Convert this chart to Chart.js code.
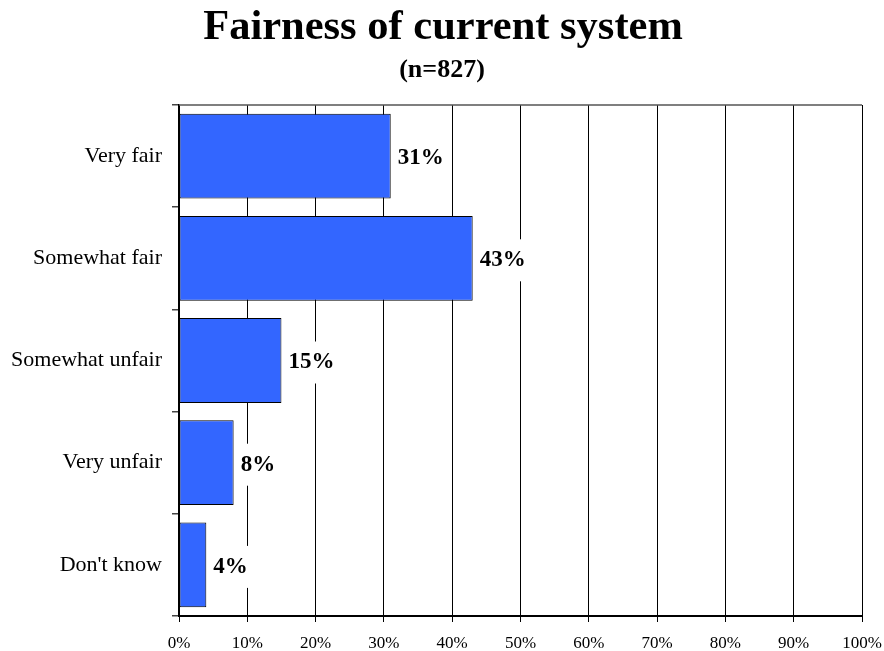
<!DOCTYPE html>
<html>
<head>
<meta charset="utf-8">
<script src="https://cdn.jsdelivr.net/npm/chart.js@4/dist/chart.umd.min.js"></script>
<style>
  html, body { margin: 0; padding: 0; background: #ffffff; }
  #wrap { width: 884px; height: 651px; }
</style>
</head>
<body>
<div id="wrap"><canvas id="c" width="884" height="651"></canvas></div>
<script>
// Survey responses
const categories = ['Very fair', 'Somewhat fair', 'Somewhat unfair', 'Very unfair', "Don't know"];
const percentages = [31, 43, 15, 8, 4];
const titleText = 'Fairness of current system';
const subtitleText = '(n=827)';

const SERIF = "'Liberation Serif', 'Times New Roman', Times, serif";

// Title and sample size, centred over the page
const headingPlugin = {
  id: 'heading',
  afterDraw(chart) {
    const ctx = chart.ctx;
    const cx = chart.width / 2;
    ctx.save();
    ctx.fillStyle = '#000';
    ctx.textAlign = 'center';
    ctx.textBaseline = 'alphabetic';
    ctx.font = 'bold 42.5px ' + SERIF;
    ctx.fillText(titleText, cx + 1, 39);
    ctx.font = 'bold 26px ' + SERIF;
    ctx.fillText(subtitleText, cx, 77);
    ctx.restore();
  }
};

// Top edge of the plot frame
const frameTopPlugin = {
  id: 'frameTop',
  beforeDatasetsDraw(chart) {
    const { ctx, chartArea } = chart;
    ctx.save();
    ctx.strokeStyle = '#555';
    ctx.lineWidth = 1.5;
    ctx.beginPath();
    ctx.moveTo(chartArea.left, chartArea.top);
    ctx.lineTo(chartArea.right, chartArea.top);
    ctx.stroke();
    ctx.restore();
  }
};

// Value labels on white boxes just past each bar end
const valueLabelPlugin = {
  id: 'valueLabels',
  afterDatasetsDraw(chart) {
    const ctx = chart.ctx;
    const meta = chart.getDatasetMeta(0);
    const values = chart.data.datasets[0].data;
    ctx.save();
    ctx.font = 'bold 23px ' + SERIF;
    ctx.textAlign = 'left';
    ctx.textBaseline = 'middle';
    meta.data.forEach((bar, i) => {
      const text = values[i] + '%';
      const w = ctx.measureText(text).width;
      const x = bar.x + 7;
      const y = bar.y + 2;
      ctx.fillStyle = '#fff';
      ctx.fillRect(x - 3, y - 21, w + 6, 42);
      ctx.fillStyle = '#000';
      ctx.fillText(text, x, y);
    });
    ctx.restore();
  }
};

new Chart(document.getElementById('c'), {
  type: 'bar',
  data: {
    labels: categories,
    datasets: [{
      data: percentages,
      backgroundColor: '#3366FF',
      borderColor: '#000000',
      borderWidth: 1,
      borderSkipped: false,
      barPercentage: 0.83,
      categoryPercentage: 1.0
    }]
  },
  options: {
    indexAxis: 'y',
    responsive: false,
    animation: false,
    devicePixelRatio: 1,
    layout: { padding: { top: 105, right: 22, bottom: 0, left: 0 } },
    plugins: {
      legend: { display: false },
      title: { display: false },
      tooltip: { enabled: false }
    },
    scales: {
      x: {
        min: 0,
        max: 100,
        ticks: {
          stepSize: 10,
          color: '#000',
          padding: 11,
          maxRotation: 0,
          font: { family: SERIF, size: 17 },
          callback: (v) => v + '%'
        },
        grid: {
          color: '#000',
          lineWidth: 1,
          tickLength: 6,
          tickColor: '#000'
        },
        border: { display: true, color: '#000', width: 2 },
        afterFit(scale) {
          scale.height = 35;
          scale.paddingLeft = 0;
          scale.paddingRight = 0;
        }
      },
      y: {
        offset: true,
        ticks: {
          color: '#000',
          padding: 10,
          font: { family: SERIF, size: 22 }
        },
        grid: {
          offset: true,
          drawOnChartArea: false,
          tickLength: 7,
          tickColor: '#444',
          lineWidth: 1.5
        },
        border: { display: true, color: '#000', width: 1.5 },
        afterFit(scale) { scale.width = 179; }
      }
    }
  },
  plugins: [frameTopPlugin, valueLabelPlugin, headingPlugin]
});
</script>
</body>
</html>
